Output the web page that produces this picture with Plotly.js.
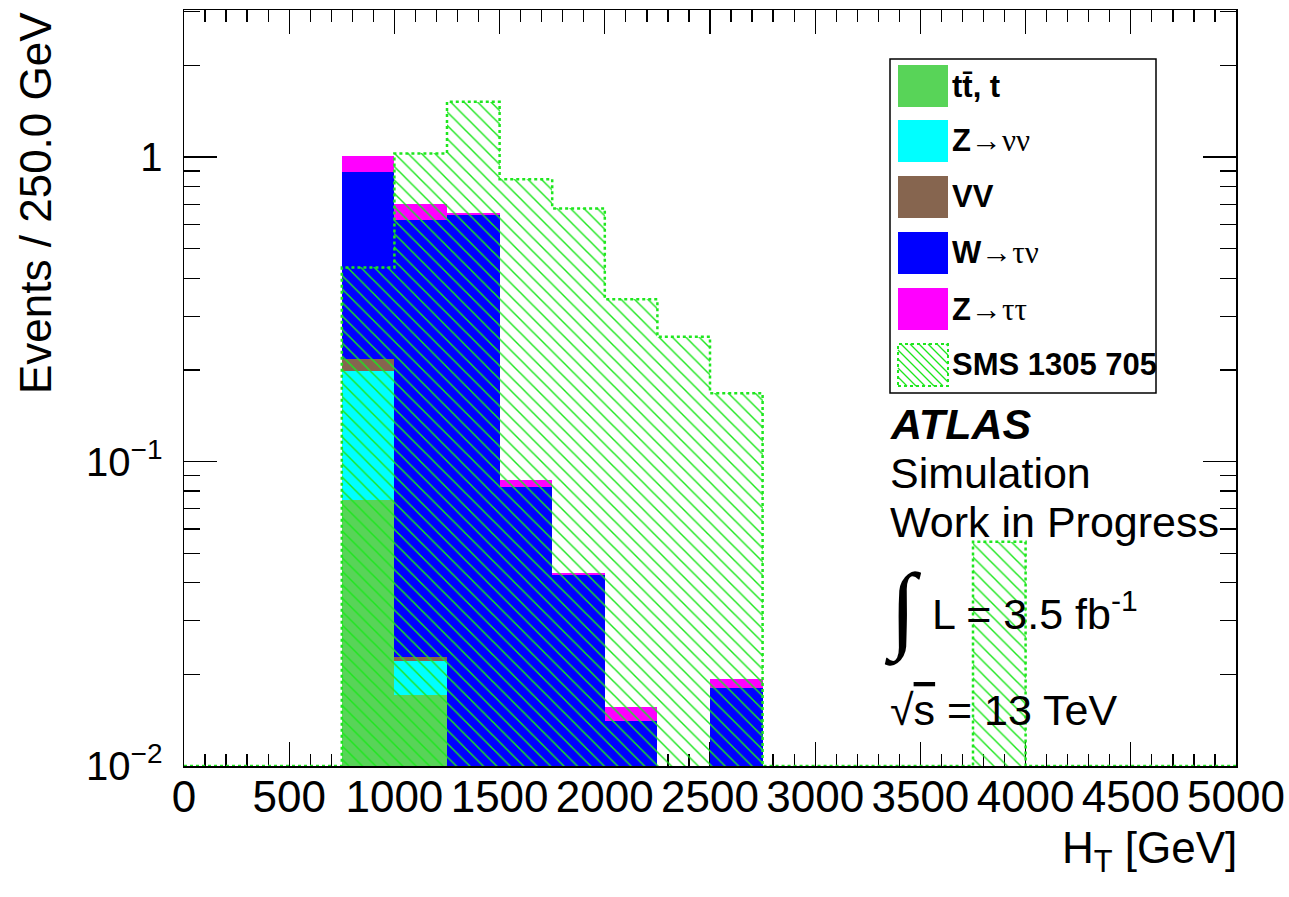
<!DOCTYPE html>
<html><head><meta charset="utf-8">
<script src="https://cdn.plot.ly/plotly-3.0.1.min.js"></script>
<style>html,body{margin:0;padding:0;background:#fff}#chart{width:1289px;height:897px}</style>
</head><body><div id="chart"></div>
<script>
// ---- data ----
const binLow = [0,250,500,750,1000,1250,1500,1750,2000,2250,2500,2750,3000,3250,3500,3750,4000,4250,4500,4750];
const binWidth = 250;
const xMax = 5000;
const ttbar  = [0,0,0,0.0748,0.0171,0,0,0,0,0,0,0,0,0,0,0,0,0,0,0];
const zvv    = [0,0,0,0.123,0.0051,0,0,0,0,0,0,0,0,0,0,0,0,0,0,0];
const vv     = [0,0,0,0.019,0.0006,0,0,0,0,0,0,0,0,0,0,0,0,0,0,0];
const wtv    = [0,0,0,0.674,0.598,0.643,0.0827,0.0423,0.0141,0,0.0181,0,0,0,0,0,0,0,0,0];
const ztt    = [0,0,0,0.12,0.080,0.010,0.0042,0.0006,0.0015,0,0.0012,0,0,0,0,0,0,0,0,0];
const signal = [0,0,0,0.434,1.028,1.519,0.845,0.678,0.341,0.257,0.1675,0,0,0,0,0.0545,0,0,0,0];
const bkgNames = ['tt\u0304, t',
  'Z<span style="font-family:Liberation Serif,serif;font-weight:normal">\u2192\u03bd\u03bd</span>',
  'VV',
  'W<span style="font-family:Liberation Serif,serif;font-weight:normal">\u2192\u03c4\u03bd</span>',
  'Z<span style="font-family:Liberation Serif,serif;font-weight:normal">\u2192\u03c4\u03c4</span>'];
const signalName = 'SMS 1305 705';
const bkgColors = ['#58d458','#00ffff','#86654f','#0000ff','#ff00ff'];
const sigColor = '#1ee61e';
const xTickVals = [0,500,1000,1500,2000,2500,3000,3500,4000,4500,5000];
const xTickText = ['0','500','1000','1500','2000','2500','3000','3500','4000','4500','5000'];
const yTickVals = [0.01,0.1,1];
const yTickText = ['10<sup>\u22122</sup>','10<sup>\u22121</sup>','1'];
const yMinor = [0.02,0.03,0.04,0.05,0.06,0.07,0.08,0.09,0.2,0.3,0.4,0.5,0.6,0.7,0.8,0.9,2,3];
const yLogRange = [-2, 0.483];

// ---- geometry helpers (plot area in pixels) ----
const W = 1289, H = 897, mL = 184, mR = 53, mT = 10, mB = 131;
const pw = W - mL - mR, ph = H - mT - mB;
const px = v => (v - mL) / pw;
const py = v => (H - mB - v) / ph;

const centers = binLow.map(v => v + binWidth / 2);
const series = [ttbar, zvv, vv, wtv, ztt];
const cum = [];
series.forEach((s, i) => cum.push(s.map((v, j) => v + (i ? cum[i-1][j] : 0))));

const traces = [];
for (let i = series.length - 1; i >= 0; i--) {
  traces.push({type:'bar', x:centers, y:cum[i], width:binWidth,
    marker:{color:bkgColors[i], line:{width:0}}, hoverinfo:'skip', showlegend:false});
}
traces.push({type:'bar', x:centers, y:signal, width:binWidth,
  marker:{color:'rgba(0,0,0,0)', line:{width:0},
    pattern:{shape:'\\', fgcolor:sigColor, bgcolor:'rgba(0,0,0,0)', size:9.5, solidity:0.15}},
  hoverinfo:'skip', showlegend:false});
const yMin = Math.pow(10, yLogRange[0]);
const outlineX = binLow.concat([xMax]);
const outlineY = signal.map(v => Math.max(v, yMin)).concat([Math.max(signal[signal.length-1], yMin)]);
traces.push({type:'scatter', mode:'lines', x:outlineX, y:outlineY,
  line:{shape:'hv', color:sigColor, width:2.5, dash:'dot'}, hoverinfo:'skip', showlegend:false});

// ---- manual legend ----
const shapes = [];
const annotations = [];
const legX0 = 890, legX1 = 1156, legY0 = 59, legY1 = 393;
shapes.push({type:'rect', xref:'paper', yref:'paper', x0:px(legX0), x1:px(legX1), y0:py(legY1), y1:py(legY0),
  line:{color:'#000', width:1.5}, fillcolor:'#fff', layer:'above'});
const rowY = [86, 141, 197, 253, 309, 365];
const swX0 = 898, swX1 = 948, swH = 21;
bkgNames.forEach((nm, i) => {
  shapes.push({type:'rect', xref:'paper', yref:'paper', x0:px(swX0), x1:px(swX1),
    y0:py(rowY[i] + swH), y1:py(rowY[i] - swH), line:{width:0}, fillcolor:bkgColors[i], layer:'above'});
  annotations.push({xref:'paper', yref:'paper', x:px(950), y:py(rowY[i]), xanchor:'left', yanchor:'middle',
    text:'<b>' + nm + '</b>', showarrow:false, font:{size:31, color:'#000'}});
});
// hatched signal swatch
{
  const i = 5, t = rowY[i] - swH, b = rowY[i] + swH, hgt = b - t;
  let d = '';
  for (let k = -hgt; k < (swX1 - swX0); k += 9) {
    let xa = swX0 + k, ya = t, xb = swX0 + k + hgt, yb = b;
    if (xa < swX0) { ya = t + (swX0 - xa); xa = swX0; }
    if (xb > swX1) { yb = b - (xb - swX1); xb = swX1; }
    d += 'M' + px(xa) + ',' + py(ya) + 'L' + px(xb) + ',' + py(yb);
  }
  shapes.push({type:'path', xref:'paper', yref:'paper', path:d, line:{color:sigColor, width:1.3}, layer:'above'});
  shapes.push({type:'rect', xref:'paper', yref:'paper', x0:px(swX0), x1:px(swX1), y0:py(b), y1:py(t),
    line:{color:sigColor, width:2, dash:'dot'}, layer:'above'});
  annotations.push({xref:'paper', yref:'paper', x:px(950), y:py(rowY[i]), xanchor:'left', yanchor:'middle',
    text:'<b>' + signalName + '</b>', showarrow:false, font:{size:31, color:'#000'}});
}

// ---- labels ----
const txt = (t, x, y, size, extra) => Object.assign({xref:'paper', yref:'paper', x:px(x), y:py(y),
  xanchor:'left', yanchor:'middle', text:t, showarrow:false, font:{size:size, color:'#000'}}, extra || {});
annotations.push(txt('<b><i>ATLAS</i></b>', 888, 424, 43));
annotations.push(txt('Simulation', 888, 473, 43));
annotations.push(txt('Work in Progress', 888, 522, 43));
annotations.push(txt('\u222b', 882, 610, 96, {font:{size:96, color:'#000', family:'Liberation Serif, serif'}}));
annotations.push(txt('L = 3.5 fb<sup>-1</sup>', 930, 611, 43));
annotations.push(txt('\u221a<span style="text-decoration:overline">s</span> = 13 TeV', 888, 710, 43));
annotations.push({xref:'paper', yref:'paper', x:px(35), y:1, xanchor:'center', yanchor:'top', textangle:-90,
  text:'Events / 250.0 GeV', showarrow:false, font:{size:44, color:'#000'}});
annotations.push({xref:'paper', yref:'paper', x:px(1239), y:py(851), xanchor:'right', yanchor:'middle',
  text:'H<sub>T</sub> [GeV]', showarrow:false, font:{size:44, color:'#000'}});

const axCommon = {ticks:'inside', tickcolor:'#000', tickwidth:1.3, showline:true, linecolor:'#000', linewidth:1.5,
  mirror:'allticks', showgrid:false, zeroline:false, layer:'below traces'};
const layout = {
  width:W, height:H, margin:{l:mL, r:mR, t:mT, b:mB, pad:0},
  paper_bgcolor:'#fff', plot_bgcolor:'#fff', showlegend:false, barmode:'overlay', bargap:0,
  font:{family:'Liberation Sans, Arial, Helvetica, sans-serif', color:'#000'},
  xaxis:Object.assign({}, axCommon, {range:[0, xMax], tickmode:'array', tickvals:xTickVals, ticktext:xTickText,
    ticklen:24, ticklabelstandoff:-8, tickfont:{size:44, color:'#000'},
    minor:{tickmode:'linear', tick0:0, dtick:100, ticks:'inside', ticklen:12, tickwidth:1.3, tickcolor:'#000', showgrid:false}}),
  yaxis:Object.assign({}, axCommon, {type:'log', range:yLogRange, tickmode:'array', tickvals:yTickVals, ticktext:yTickText,
    ticklen:33, ticklabelstandoff:12, tickfont:{size:40, color:'#000'},
    minor:{tickmode:'array', tickvals:yMinor, ticks:'inside', ticklen:16, tickwidth:1.3, tickcolor:'#000', showgrid:false}}),
  shapes:shapes, annotations:annotations
};
Plotly.newPlot('chart', traces, layout, {displayModeBar:false, staticPlot:true});
</script></body></html>
